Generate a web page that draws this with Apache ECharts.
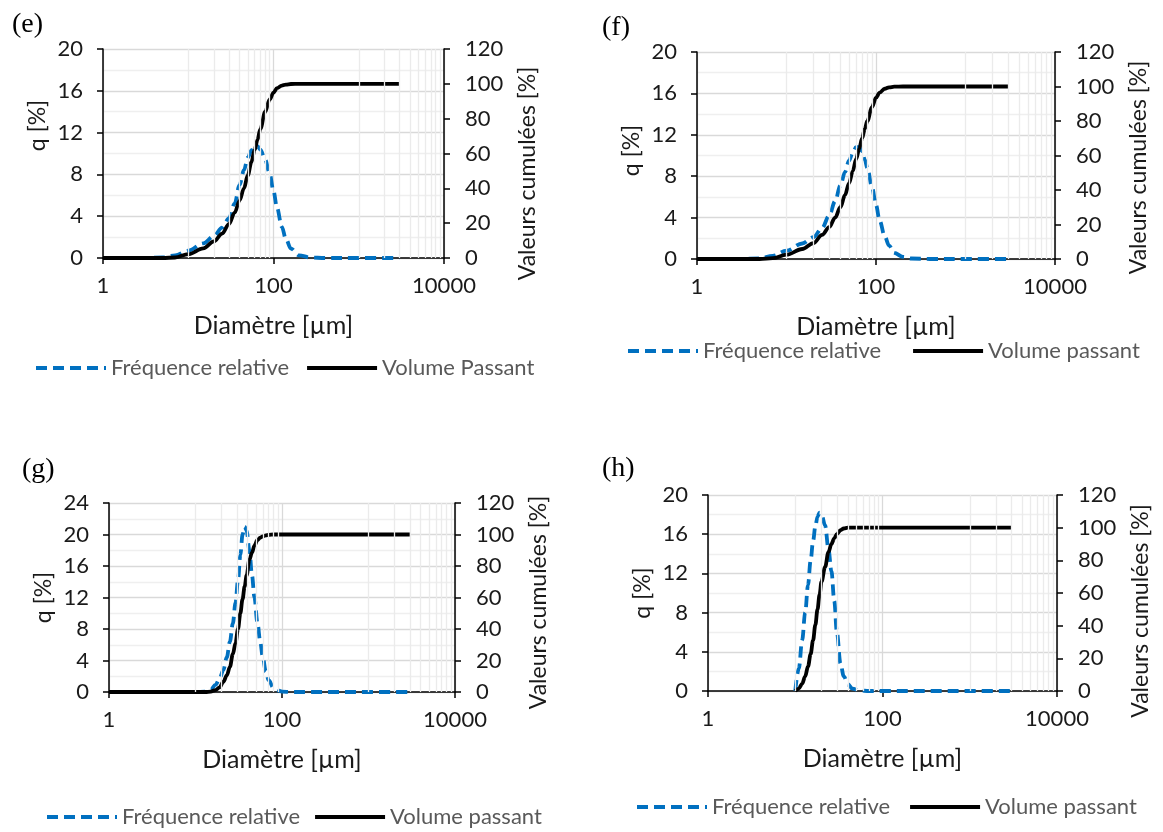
<!DOCTYPE html>
<html>
<head>
<meta charset="utf-8">
<script src="https://cdn.jsdelivr.net/npm/echarts@6/dist/echarts.min.js"></script>
<style>
html,body{margin:0;padding:0;background:#fff;}
#c{width:1163px;height:832px;}
</style>
</head>
<body>
<div id="c"></div>
<script>
// ---------- data ----------
const diamE = [1, 3, 5, 7, 10, 15, 20, 25, 30, 35, 40, 45, 50, 55, 60, 65, 70, 80, 90, 100, 110, 125, 140, 160, 200, 270, 400, 1000, 3000];
const freqE = [0, 0, 0.05, 0.25, 0.7, 1.4, 2.1, 2.9, 3.8, 5.2, 7.0, 8.4, 9.6, 10.3, 10.7, 10.7, 10.4, 9.4, 8.1, 6.4, 4.8, 3.0, 1.8, 0.9, 0.25, 0.05, 0, 0, 0];
const cumE  = [0, 0, 0, 0.3, 2.2, 5.5, 9.5, 14, 19.5, 26, 33, 40, 47.5, 55, 62, 68, 74, 84, 91, 95, 97.5, 99, 99.6, 99.9, 100, 100, 100, 100, 100];

const diamF = [1, 3, 5, 7, 10, 15, 20, 25, 30, 35, 40, 45, 50, 55, 60, 65, 70, 75, 80, 90, 100, 110, 125, 140, 160, 200, 250, 400, 1000, 3000];
const freqF = [0, 0, 0.05, 0.3, 0.8, 1.5, 2.1, 3.0, 4.2, 5.6, 7.1, 8.4, 9.5, 10.3, 10.8, 10.8, 10.4, 9.6, 8.8, 7.0, 5.2, 3.7, 2.2, 1.3, 0.6, 0.2, 0.05, 0, 0, 0];
const cumF  = [0, 0, 0, 0.5, 2.5, 5.8, 9.2, 14, 18.5, 24, 30, 37, 44, 51, 58, 64, 70, 75.5, 80, 88, 93.5, 96.5, 98.7, 99.5, 99.9, 100, 100, 100, 100, 100];

const diamG = [1, 5, 10, 13, 15, 17, 19, 21, 23, 25, 27, 29, 31, 33, 35, 37, 39, 42, 45, 48, 52, 56, 60, 65, 70, 80, 90, 100, 130, 200, 1000, 3000];
const freqG = [0, 0, 0, 0.05, 0.3, 0.9, 1.7, 2.8, 4.4, 6.4, 8.7, 11.3, 14.2, 17.4, 20, 21, 20.5, 18, 14.8, 12.0, 8.8, 6.4, 4.4, 2.6, 1.5, 0.5, 0.2, 0.05, 0, 0, 0, 0];
const cumG  = [0, 0, 0, 0, 0.3, 1.2, 3, 6.5, 10.5, 16, 24, 31, 40, 50, 59, 67, 74, 84, 88.5, 93, 96.5, 98, 98.8, 99.5, 99.8, 100, 100, 100, 100, 100, 100, 100];

const diamH = [10, 11, 12, 13, 14, 15, 16, 17, 18, 19, 20, 22, 24, 26, 28, 30, 33, 36, 40, 45, 55, 70, 100, 1000, 3000];
const freqH = [0, 2.3, 5.2, 8.0, 10.8, 13.3, 15.3, 16.8, 17.8, 18.2, 18, 16.9, 14.5, 12.2, 9.2, 6.0, 2.8, 1.5, 0.7, 0.25, 0.05, 0, 0, 0, 0];
const cumH  = [0, 1.5, 4.5, 9, 15, 22.5, 31, 40.5, 50, 59, 67, 76, 85, 90, 93.5, 96, 98.5, 99.5, 100, 100, 100, 100, 100, 100, 100];

const panelLabels = ['(e)', '(f)', '(g)', '(h)'];
const freqNames = ['Fréquence relative', 'Fréquence relative', 'Fréquence relative', 'Fréquence relative'];
const cumNames = ['Volume Passant', 'Volume passant', 'Volume passant', 'Volume passant'];
const qMax = [20, 20, 24, 20];
const minorX = [10, 20, 30, 40, 50, 60, 70, 80, 90, 1000, 2000, 3000, 4000, 5000, 6000, 7000, 8000, 9000];
const xAxisTitle = 'Diamètre [µm]';
const qTitle = 'q [%]';
const cumTitle = 'Valeurs cumulées [%]';

// ---------- layout ----------
const grids = [
  {left: 103, top: 49, width: 341, height: 209},
  {left: 697, top: 52, width: 358, height: 207},
  {left: 109, top: 503, width: 346, height: 189},
  {left: 708, top: 495, width: 349, height: 196}
];
const titlePos = [{left: 7, top: 6}, {left: 597, top: 9}, {left: 17, top: 451}, {left: 597, top: 450}];
const legendPos = [{left: 29, top: 352, gap: 16}, {left: 621, top: 335, gap: 30}, {left: 40, top: 801, gap: 13}, {left: 630, top: 791, gap: 18}];
const qNamePad = [[0, 0, 0, 56], [0, 0, 0, 10], [0, 0, 0, 0], [0, 0, 0, 0]];
const cumNamePad = [[0, 40, 0, 0], [0, 24, 0, 0], [0, 10, 0, 0], [0, 36, 0, 0]];

const diams = [diamE, diamF, diamG, diamH];
const freqs = [freqE, freqF, freqG, freqH];
const cums = [cumE, cumF, cumG, cumH];

const FONT = 'Lato';
const TXT = '#1a1a1a';
const pairs = (xs, ys) => xs.map((x, i) => [x, ys[i]]);

const option = {
  animation: false,
  backgroundColor: '#fff',
  textStyle: {fontFamily: FONT},
  title: panelLabels.map((t, i) => ({
    text: t, left: titlePos[i].left, top: titlePos[i].top,
    textStyle: {fontFamily: 'Liberation Serif', fontSize: 28, fontWeight: 'normal', color: '#000'}
  })),
  legend: panelLabels.map((t, i) => ({
    left: legendPos[i].left, top: legendPos[i].top,
    data: [freqNames[i], cumNames[i]],
    itemWidth: 70, itemHeight: 14, itemGap: legendPos[i].gap,
    itemStyle: {opacity: 0},
    lineStyle: {width: 4},
    textStyle: {fontFamily: FONT, fontSize: 22, color: '#595959', padding: [0, 0, 0, 0]},
    selectedMode: false
  })),
  grid: grids,
  xAxis: grids.map((g, i) => ({
    type: 'log', logBase: 100, min: 1, max: 10000, splitNumber: 2, gridIndex: i,
    name: xAxisTitle, nameLocation: 'middle', nameGap: 55,
    nameTextStyle: {fontFamily: FONT, fontSize: 25, color: TXT},
    axisLine: {onZero: false, lineStyle: {color: '#000', width: 1.5}},
    axisTick: {show: true, length: 6, lineStyle: {color: '#000', width: 1.5}},
    axisLabel: {fontFamily: FONT, fontSize: 22, color: TXT, margin: 17, formatter: v => String(Math.round(v))},
    splitLine: {show: true, lineStyle: {color: '#d9d9d9', width: 1.3}},
    minorTick: {show: false}, minorSplitLine: {show: false}
  })),
  yAxis: [].concat(...grids.map((g, i) => ([
    {
      type: 'value', gridIndex: i, min: 0, max: qMax[i], interval: 4, position: 'left',
      name: qTitle, nameLocation: 'middle', nameGap: 54, nameRotate: 90,
      nameTextStyle: {fontFamily: FONT, fontSize: 23, color: TXT, padding: qNamePad[i]},
      axisLine: {show: true, lineStyle: {color: '#000', width: 1.5}},
      axisTick: {show: true, length: 6, lineStyle: {color: '#000', width: 1.5}},
      axisLabel: {fontFamily: FONT, fontSize: 22, color: TXT, margin: 20},
      splitLine: {show: true, lineStyle: {color: '#d9d9d9', width: 1.3}},
      minorTick: {show: false, splitNumber: 2},
      minorSplitLine: {show: true, lineStyle: {color: '#efefef', width: 1.3}}
    },
    {
      type: 'value', gridIndex: i, min: 0, max: 120, interval: 20, position: 'right',
      name: cumTitle, nameLocation: 'middle', nameGap: 72, nameRotate: 90,
      nameTextStyle: {fontFamily: FONT, fontSize: 23, color: TXT, padding: cumNamePad[i]},
      axisLine: {show: true, lineStyle: {color: '#000', width: 1.5}},
      axisTick: {show: true, length: 6, lineStyle: {color: '#000', width: 1.5}},
      axisLabel: {fontFamily: FONT, fontSize: 22, color: TXT, margin: 21},
      splitLine: {show: false}
    }
  ]))),
  series: [].concat(...grids.map((g, i) => ([
    {
      type: 'line', name: 'minor-grid-' + i, xAxisIndex: i, yAxisIndex: 2 * i, data: [],
      silent: true, z: 1,
      markLine: {
        silent: true, symbol: 'none', label: {show: false},
        lineStyle: {color: '#ebebeb', width: 1.3, type: 'solid'},
        emphasis: {disabled: true},
        data: minorX.map(v => ({xAxis: v}))
      }
    },
    {
      type: 'line', name: freqNames[i], xAxisIndex: i, yAxisIndex: 2 * i,
      data: pairs(diams[i], freqs[i]), showSymbol: false, symbol: 'none',
      smooth: 0.35, smoothMonotone: 'x', z: 3,
      lineStyle: {color: '#0070C0', width: 3.8, type: [11, 6], cap: 'butt'},
      itemStyle: {color: '#0070C0'}
    },
    {
      type: 'line', name: cumNames[i], xAxisIndex: i, yAxisIndex: 2 * i + 1,
      data: pairs(diams[i], cums[i]), showSymbol: false, symbol: 'none',
      smooth: 0.35, smoothMonotone: 'x', z: 4,
      lineStyle: {color: '#000', width: 3.8},
      itemStyle: {color: '#000'}
    }
  ])))
};

const chart = echarts.init(document.getElementById('c'), null, {renderer: 'canvas'});
chart.setOption(option);
</script>
</body>
</html>
